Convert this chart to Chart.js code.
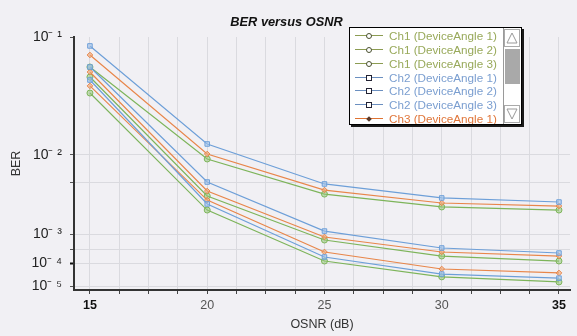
<!DOCTYPE html>
<html>
<head>
<meta charset="utf-8">
<script src="https://cdn.jsdelivr.net/npm/chart.js@4.4.1/dist/chart.umd.min.js"></script>
<style>
  html, body { margin: 0; padding: 0; background: #f1f0f4; }
  #wrap { position: relative; width: 577px; height: 336px; overflow: hidden; }
  #c { position: absolute; left: 0; top: 0; }
  #title { position: absolute; left: 200px; width: 173px; top: 14px; text-align: center;
    font: italic bold 12.8px "Liberation Sans", Arial, sans-serif; color: #111; }
  #legend { position: absolute; left: 349px; top: 27px; width: 171px; height: 96px;
    border: 1px solid #000; background: #fff; box-shadow: 2px 2px 0 #1a1a1a; }
  #items { position: absolute; left: 0; top: 1px; width: 154px; height: 95px; overflow: hidden; }
  .row { position: relative; height: 13.85px; }
  .sym { position: absolute; left: 5px; top: 6px; width: 28px; height: 0; border-top: 1.3px solid; }
  .mk { position: absolute; box-sizing: border-box; }
  .txt { position: absolute; left: 39px; top: 0; line-height: 13.85px; white-space: nowrap;
    font: 11.7px "Liberation Sans", Arial, sans-serif; }
  #sb { position: absolute; right: 0; top: 0; width: 17px; height: 96px; background: #fff; border-left: 1px solid #9a9a9a; }
  .btn { position: absolute; left: 0; width: 16px; height: 18px; background: #fff; border: 1px solid #aaa; box-sizing: border-box; }
  #thumb { position: absolute; left: 1px; top: 21px; width: 15px; height: 35px; background: #a9a9a9; }
</style>
</head>
<body>
<div id="wrap">
  <canvas id="c" width="577" height="336"></canvas>
  <div id="title">BER versus OSNR</div>
  <div id="legend">
    <div id="items"></div>
    <div id="sb">
      <div class="btn" style="top:1px"><svg width="14" height="16"><polygon points="2,13 12,13 7,3" fill="#fff" stroke="#999" stroke-width="1"/></svg></div>
      <div id="thumb"></div>
      <div class="btn" style="bottom:1px"><svg width="14" height="16"><polygon points="2,3 12,3 7,13" fill="#fff" stroke="#999" stroke-width="1"/></svg></div>
    </div>
  </div>
</div>
<script>
// ---------------- data ----------------
const osnr = [15, 20, 25, 30, 35];

const ch1_angle1 = [0.0557, 0.0089, 0.0032, 0.00220, 0.00201];
const ch1_angle2 = [0.0458, 0.00303, 0.00062, 0.000174, 0.000117];
const ch1_angle3 = [0.0335, 0.00201, 0.000117, 0.000025, 0.000015];

const ch2_angle1 = [0.084, 0.0124, 0.0043, 0.00286, 0.00254];
const ch2_angle2 = [0.0557, 0.00455, 0.00109, 0.000329, 0.000221];
const ch2_angle3 = [0.0432, 0.0024, 0.000161, 0.000033, 0.000022];

const ch3_angle1 = [0.0704, 0.0102, 0.0036, 0.00247, 0.00226];
const ch3_angle2 = [0.0505, 0.0035, 0.00079, 0.000240, 0.000174];
const ch3_angle3 = [0.0385, 0.00269, 0.000240, 0.000055, 0.000037];

const seriesNames = [
  'Ch1 (DeviceAngle 1)', 'Ch1 (DeviceAngle 2)', 'Ch1 (DeviceAngle 3)',
  'Ch2 (DeviceAngle 1)', 'Ch2 (DeviceAngle 2)', 'Ch2 (DeviceAngle 3)',
  'Ch3 (DeviceAngle 1)', 'Ch3 (DeviceAngle 2)', 'Ch3 (DeviceAngle 3)'
];
const seriesValues = [ch1_angle1, ch1_angle2, ch1_angle3, ch2_angle1, ch2_angle2, ch2_angle3, ch3_angle1, ch3_angle2, ch3_angle3];

const yTickValues = [1e-5, 1e-4, 3e-4, 1e-3, 4.5e-3, 1e-2, 1e-1];
const yTickLabels = ['10\u207B \u2075', '10\u207B \u2074', '', '10\u207B \u00B3', '', '10\u207B \u00B2', '10\u207B \u00B9'];
const xGridValues = [15, 16.25, 17.5, 18.75, 20, 21.25, 22.5, 23.75, 25, 26.25, 27.5, 28.75, 30, 31.25, 32.5, 33.75, 35];

// ---------------- styling ----------------
const styles = {
  Ch1: { line: '#7db45a', fill: 'rgba(150,200,120,0.55)', shape: 'circle', r: 3.0, legendLine: '#8c9c52', legendText: '#98a95a' },
  Ch2: { line: '#6d9fd8', fill: 'rgba(160,195,235,0.55)', shape: 'rect', r: 3.2, legendLine: '#6b8fc0', legendText: '#7a9ed0' },
  Ch3: { line: '#e8864a', fill: 'rgba(240,170,120,0.6)', shape: 'rectRot', r: 2.8, legendLine: '#e07332', legendText: '#e0763a' }
};

// Axis shape of the original (uneven decades): [log10(BER), fraction of axis height]
const AXIS_KNOTS = [[-5.174, 0], [-5, 0.0158], [-4, 0.1067], [-3, 0.2213], [-2, 0.5336], [-1, 1]];
function toDecimal(v) {
  const l = Math.log10(v);
  const k = AXIS_KNOTS;
  if (l <= k[0][0]) return k[0][1] + (l - k[0][0]) * (k[1][1] - k[0][1]) / (k[1][0] - k[0][0]);
  for (let i = 1; i < k.length; i++) {
    if (l <= k[i][0] || i === k.length - 1) {
      const t = (l - k[i - 1][0]) / (k[i][0] - k[i - 1][0]);
      return k[i - 1][1] + t * (k[i][1] - k[i - 1][1]);
    }
  }
}
function fromDecimal(d) {
  const k = AXIS_KNOTS;
  for (let i = 1; i < k.length; i++) {
    if (d <= k[i][1] || i === k.length - 1) {
      const t = (d - k[i - 1][1]) / (k[i][1] - k[i - 1][1]);
      return Math.pow(10, k[i - 1][0] + t * (k[i][0] - k[i - 1][0]));
    }
  }
}

class BrokenLogScale extends Chart.Scale {
  static id = 'brokenLog';
  static defaults = {};
  determineDataLimits() { this.min = Math.pow(10, AXIS_KNOTS[0][0]); this.max = 0.1; }
  buildTicks() { return yTickValues.map(v => ({ value: v })); }
  getLabelForValue(v) { return Number(v).toExponential(2); }
  getPixelForValue(v) { return this.getPixelForDecimal(toDecimal(v)); }
  getValueForPixel(p) { return fromDecimal(this.getDecimalForPixel(p)); }
}
Chart.register(BrokenLogScale);

const datasets = seriesNames.map((name, i) => {
  const st = styles[name.slice(0, 3)];
  return {
    label: name,
    data: osnr.map((x, j) => ({ x: x, y: seriesValues[i][j] })),
    borderColor: st.line,
    backgroundColor: st.fill,
    borderWidth: 1.2,
    pointStyle: st.shape,
    pointRadius: st.r,
    pointBorderWidth: 1,
    pointBorderColor: st.line,
    pointBackgroundColor: st.fill,
    tension: 0,
    fill: false
  };
});

datasets.forEach((d, i) => { d.order = [5, 5, 5, 1, 1, 1, 3, 3, 3][i]; });

new Chart(document.getElementById('c'), {
  type: 'line',
  data: { datasets: datasets },
  options: {
    responsive: false,
    animation: false,
    events: [],
    layout: { padding: { top: 37, right: 7, left: 0, bottom: 0 } },
    plugins: { legend: { display: false }, tooltip: { enabled: false }, title: { display: false } },
    scales: {
      x: {
        type: 'linear',
        min: 14.32,
        max: 35.47,
        afterBuildTicks: s => { s.ticks = xGridValues.map(v => ({ value: v })); },
        afterFit: s => { s.height = 46; },
        grid: { color: '#dadadf', lineWidth: 1, tickColor: '#444', tickLength: 4, drawTicks: true },
        border: { color: '#333', width: 2 },
        ticks: {
          autoSkip: false, maxRotation: 0, padding: 4,
          callback: v => (v % 5 === 0 ? String(v) : ''),
          color: ctx => (ctx.tick && (ctx.tick.value === 15 || ctx.tick.value === 35)) ? '#111' : '#555',
          font: ctx => ({ family: '"Liberation Sans", Arial, sans-serif', size: 12.5,
            weight: (ctx.tick && (ctx.tick.value === 15 || ctx.tick.value === 35)) ? 'bold' : 'normal' })
        },
        title: { display: true, text: 'OSNR (dB)', color: '#333',
          font: { family: '"Liberation Sans", Arial, sans-serif', size: 12.5 }, padding: { top: 0, bottom: 4 } }
      },
      y: {
        type: 'brokenLog',
        position: 'left',
        afterFit: s => { s.width = 74; },
        grid: {
          color: ctx => (ctx.tick && ctx.tick.value === 0.1) ? 'rgba(0,0,0,0)' : '#dadadf',
          lineWidth: 1,
          tickColor: ctx => (ctx.tick && ctx.tick.value === 1e-4) ? '#111' : '#555',
          tickWidth: ctx => (ctx.tick && ctx.tick.value === 1e-4) ? 2 : 1,
          tickLength: 4
        },
        border: { color: '#333', width: 2 },
        ticks: {
          padding: 8,
          color: '#222',
          font: { family: '"Liberation Sans", Arial, sans-serif', size: 14 },
          callback: (v, i) => yTickLabels[i]
        },
        title: { display: true, text: 'BER', color: '#333',
          font: { family: '"Liberation Sans", Arial, sans-serif', size: 12.5 }, padding: { top: 9, bottom: 0 } }
      }
    }
  }
});

// ---------------- HTML legend (scrolling box, first 7 visible) ----------------
const items = document.getElementById('items');
seriesNames.forEach(name => {
  const st = styles[name.slice(0, 3)];
  const row = document.createElement('div');
  row.className = 'row';
  const sym = document.createElement('div');
  sym.className = 'sym';
  sym.style.borderTopColor = st.legendLine;
  row.appendChild(sym);
  const mk = document.createElement('div');
  mk.className = 'mk';
  if (st.shape === 'circle') {
    Object.assign(mk.style, { left: '16px', top: '4px', width: '6px', height: '6px', borderRadius: '50%', border: '1.3px solid #4a5030', background: '#fff' });
  } else if (st.shape === 'rect') {
    Object.assign(mk.style, { left: '16px', top: '4px', width: '6px', height: '6px', border: '1.3px solid #223', background: '#fff' });
  } else {
    Object.assign(mk.style, { left: '17px', top: '5px', width: '4px', height: '4px', background: '#5a3a2a', transform: 'rotate(45deg)' });
  }
  row.appendChild(mk);
  const t = document.createElement('div');
  t.className = 'txt';
  t.style.color = st.legendText;
  t.textContent = name;
  row.appendChild(t);
  items.appendChild(row);
});
</script>
</body>
</html>
